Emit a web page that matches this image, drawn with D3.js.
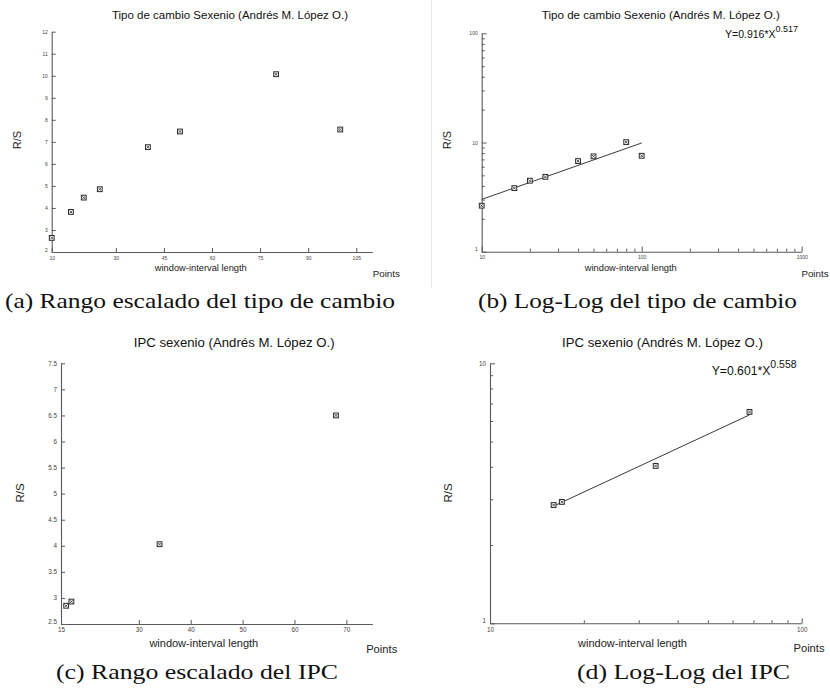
<!DOCTYPE html>
<html>
<head>
<meta charset="utf-8">
<script src="https://cdn.jsdelivr.net/npm/d3@7"></script>
<style>
  body { margin: 0; background: #fff; }
  svg { display: block; }
</style>
</head>
<body>
<svg id="chart" width="830" height="695"></svg>
<script>
// R/S analysis of the exchange rate over the six-year term
const tcWindows = [10, 16, 20, 25, 40, 50, 80, 100];
const tcRS = [2.64, 3.82, 4.47, 4.85, 6.76, 7.47, 10.07, 7.56];
const tcFit = [0.916, 0.517];          // Y = a * X^b

// R/S analysis of the CPI over the six-year term
const ipcWindows = [16, 17, 34, 68];
const ipcRS = [2.85, 2.93, 4.03, 6.50];
const ipcFit = [0.601, 0.558];         // Y = a * X^b

// Tick values of the linear panels
const tcLinXTicks = [10, 30, 45, 60, 75, 90, 105];
const tcLinYTicks = [2, 3, 4, 5, 6, 7, 8, 9, 10, 11, 12];
const ipcLinXTicks = [15, 30, 40, 50, 60, 70];
const ipcLinYTicks = [2.5, 3, 3.5, 4, 4.5, 5, 5.5, 6, 6.5, 7, 7.5];

// Texts
const titleTC = "Tipo de cambio Sexenio (Andrés M. López O.)";
const titleIPC = "IPC sexenio (Andrés M. López O.)";
const xLabel = "window-interval length";
const xUnit = "Points";
const yLabel = "R/S";
const captions = [
  "(a) Rango escalado del tipo de cambio",
  "(b) Log-Log del tipo de cambio",
  "(c) Rango escalado del IPC",
  "(d) Log-Log del IPC"
];

const svg = d3.select("#chart");
const SANS = "'Liberation Sans', Arial, sans-serif";
const AXIS = "#5a5a5a";

// thin divider at the left edge of the upper-right figure
svg.append("line")
  .attr("x1", 431.5).attr("x2", 431.5).attr("y1", 0).attr("y2", 288)
  .attr("stroke", "#e1e7ec").attr("stroke-width", 1);

function logMinors(lo, hi) {
  const out = [];
  for (let d = lo; d < hi; d *= 10)
    for (let k = 2; k <= 9; k++) out.push(d * k);
  return out;
}

function drawPanel(p) {
  const g = svg.append("g");
  const x = p.x, y = p.y;
  const [x0, x1] = x.range();
  const [y0, y1] = y.range();

  // major axes
  const xAxis = d3.axisBottom(x).tickValues(p.xTicks).tickSize(-p.tickLen)
    .tickSizeOuter(0).tickPadding(4).tickFormat(d => String(d));
  const yAxis = d3.axisLeft(y).tickValues(p.yTicks).tickSize(-p.tickLen)
    .tickSizeOuter(0).tickPadding(4).tickFormat(d => String(d));

  const gx = g.append("g").attr("transform", `translate(0,${y0})`).call(xAxis);
  const gy = g.append("g").attr("transform", `translate(${x0},0)`).call(yAxis);

  [gx, gy].forEach(a => {
    a.select(".domain").attr("stroke", AXIS).attr("stroke-width", 1.1);
    a.selectAll(".tick line").attr("stroke", AXIS).attr("stroke-width", 1);
    a.selectAll(".tick text").attr("fill", "#444")
      .style("font-family", SANS).style("font-size", p.tickFont + "px");
  });
  // the bottom-most value label sits slightly above the corner
  gy.selectAll(".tick text").filter(d => d === p.yTicks[0]).attr("dy", "-0.15em");

  // minor ticks for logarithmic axes
  if (p.xMinor) {
    g.append("g").attr("transform", `translate(0,${y0})`)
      .call(d3.axisBottom(x).tickValues(p.xMinor).tickSize(-p.tickLen * 0.6)
        .tickSizeOuter(0).tickFormat(""))
      .call(a => a.select(".domain").remove())
      .selectAll(".tick line").attr("stroke", AXIS);
  }
  if (p.yMinor) {
    g.append("g").attr("transform", `translate(${x0},0)`)
      .call(d3.axisLeft(y).tickValues(p.yMinor).tickSize(-p.tickLen * 0.6)
        .tickSizeOuter(0).tickFormat(""))
      .call(a => a.select(".domain").remove())
      .selectAll(".tick line").attr("stroke", AXIS);
  }

  // fitted power law
  if (p.fit) {
    const xs = d3.extent(p.xs);
    const line = d3.line().x(d => x(d)).y(d => y(p.fit[0] * Math.pow(d, p.fit[1])));
    g.append("path").datum(xs).attr("d", line)
      .attr("fill", "none").attr("stroke", "#3a3a3a").attr("stroke-width", 1);

    const eq = g.append("text")
      .attr("x", p.eqPos[0]).attr("y", p.eqPos[1])
      .attr("fill", "#111").style("font-family", SANS).style("font-size", p.eqFont + "px");
    eq.append("tspan").text(`Y=${p.fit[0]}*X`);
    eq.append("tspan").attr("dy", -p.eqFont * 0.55).style("font-size", (p.eqFont * 0.86) + "px")
      .text(String(p.fit[1]));
  }

  // markers: small boxed crosses
  const s = 2.4;
  const mk = g.append("g").selectAll("g").data(p.xs.map((v, i) => [v, p.ys[i]]))
    .join("g").attr("transform", d => `translate(${x(d[0])},${y(d[1])})`);
  mk.append("rect").attr("x", -s).attr("y", -s).attr("width", 2 * s).attr("height", 2 * s)
    .attr("fill", "#fff").attr("stroke", "#2a2a2a").attr("stroke-width", 1);
  mk.append("path").attr("d", `M${-s + 1},${-s + 1}L${s - 1},${s - 1}M${-s + 1},${s - 1}L${s - 1},${-s + 1}`)
    .attr("stroke", "#2a2a2a").attr("stroke-width", 0.8);

  // titles and axis names
  g.append("text").attr("x", p.titlePos[0]).attr("y", p.titlePos[1])
    .attr("text-anchor", "middle").attr("fill", "#111")
    .style("font-family", SANS).style("font-size", p.titleFont + "px").text(p.title);
  g.append("text").attr("transform", `translate(${p.yLabPos[0]},${p.yLabPos[1]}) rotate(-90)`)
    .attr("text-anchor", "middle").attr("fill", "#222")
    .style("font-family", SANS).style("font-size", p.yLabFont + "px").text(yLabel);
  g.append("text").attr("x", p.xLabPos[0]).attr("y", p.xLabPos[1])
    .attr("text-anchor", "middle").attr("fill", "#222")
    .style("font-family", SANS).style("font-size", p.xLabFont + "px").text(xLabel);
  g.append("text").attr("x", p.unitPos[0]).attr("y", p.unitPos[1])
    .attr("text-anchor", "middle").attr("fill", "#222")
    .style("font-family", SANS).style("font-size", p.unitFont + "px").text(xUnit);
}

// (a) linear, exchange rate
drawPanel({
  x: d3.scaleLinear().domain([10, 110]).range([51.7, 372.3]),
  y: d3.scaleLinear().domain([2, 12]).range([252, 31.7]),
  xTicks: tcLinXTicks, yTicks: tcLinYTicks, tickLen: 4, tickFont: 5,
  xs: tcWindows, ys: tcRS,
  title: titleTC, titlePos: [230, 19], titleFont: 11.5,
  yLabPos: [20.5, 140], yLabFont: 11,
  xLabPos: [200.8, 271], xLabFont: 9.3,
  unitPos: [386.3, 277], unitFont: 9.8
});

// (b) log-log, exchange rate
drawPanel({
  x: d3.scaleLog().domain([10, 1000]).range([481.7, 801.7]),
  y: d3.scaleLog().domain([1, 100]).range([251.7, 33.3]),
  xTicks: [10, 100, 1000], yTicks: [1, 10, 100], tickLen: 5, tickFont: 5,
  xMinor: logMinors(10, 1000), yMinor: logMinors(1, 100),
  xs: tcWindows, ys: tcRS, fit: tcFit, eqPos: [725, 37.5], eqFont: 10.5,
  title: titleTC, titlePos: [660.8, 19], titleFont: 11.6,
  yLabPos: [451, 140], yLabFont: 11,
  xLabPos: [630.8, 271], xLabFont: 9.3,
  unitPos: [815, 277], unitFont: 9.8
});

// (c) linear, CPI
drawPanel({
  x: d3.scaleLinear().domain([15, 75]).range([61, 372.3]),
  y: d3.scaleLinear().domain([2.5, 7.5]).range([624, 363.3]),
  xTicks: ipcLinXTicks, yTicks: ipcLinYTicks, tickLen: 4, tickFont: 6.3,
  xs: ipcWindows, ys: ipcRS,
  title: titleIPC, titlePos: [234.2, 346.5], titleFont: 13.2,
  yLabPos: [24, 493], yLabFont: 11.5,
  xLabPos: [203.8, 647], xLabFont: 11,
  unitPos: [381.7, 653], unitFont: 11.2
});

// (d) log-log, CPI
drawPanel({
  x: d3.scaleLog().domain([10, 100]).range([490, 801.7]),
  y: d3.scaleLog().domain([1, 10]).range([623.3, 363.3]),
  xTicks: [10, 100], yTicks: [1, 10], tickLen: 5, tickFont: 6.3,
  xMinor: logMinors(10, 100), yMinor: logMinors(1, 10),
  xs: ipcWindows, ys: ipcRS, fit: ipcFit, eqPos: [711.7, 375], eqFont: 12.2,
  title: titleIPC, titlePos: [662.5, 346.5], titleFont: 13.2,
  yLabPos: [452, 493], yLabFont: 11.5,
  xLabPos: [632.5, 646.5], xLabFont: 11,
  unitPos: [809, 652], unitFont: 11.2
});

// sub-figure captions
const capPos = [[200, 308, 390], [637.5, 308, 319], [197, 679, 282], [683.5, 679, 213]];
svg.append("g").selectAll("text").data(captions).join("text")
  .attr("x", (d, i) => capPos[i][0]).attr("y", (d, i) => capPos[i][1])
  .attr("text-anchor", "middle")
  .attr("textLength", (d, i) => capPos[i][2]).attr("lengthAdjust", "spacingAndGlyphs")
  .attr("fill", "#111")
  .style("font-family", "'Liberation Serif', 'Times New Roman', serif")
  .style("font-size", "22px")
  .text(d => d);
</script>
</body>
</html>
